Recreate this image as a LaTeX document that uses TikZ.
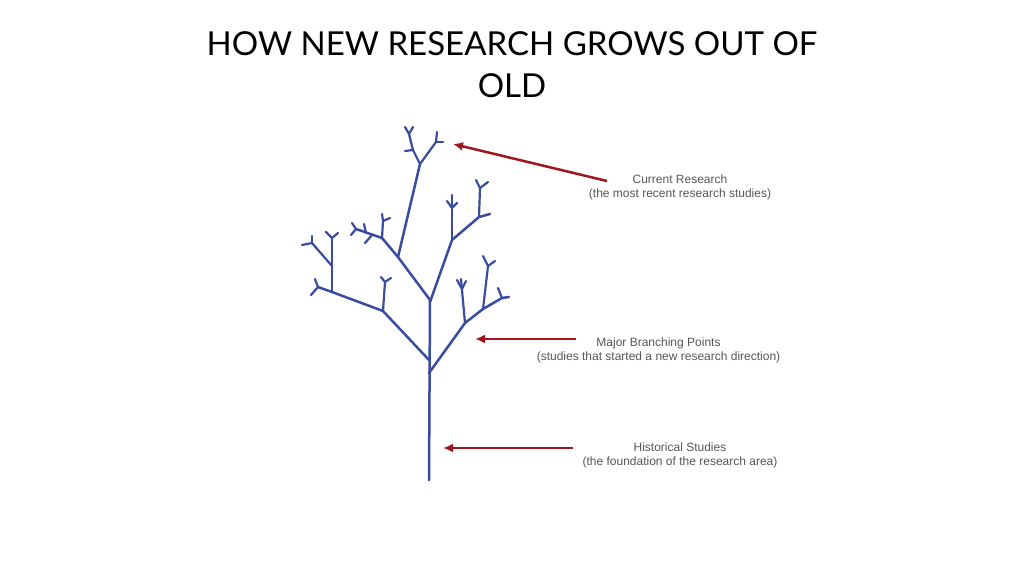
\documentclass[tikz,border=0pt]{standalone}
\usepackage{fontspec}
\setmainfont{Liberation Sans}
\newfontfamily\titrefont{Lato}
\usetikzlibrary{arrows.meta}
\definecolor{branche}{RGB}{58,76,160}
\definecolor{fleche}{RGB}{160,22,30}
\definecolor{gristexte}{RGB}{85,85,85}

\begin{document}
\begin{tikzpicture}[x = 1pt, y = -1pt,
  arbre/.style = {branche, line width = 2.5pt, line cap = round, line join = round},
  rameau/.style = {branche, line width = 2.2pt, line cap = round},
  renvoi/.style = {fleche, line width = 2.5pt, -{Latex[length=10pt,width=9pt]}},
  legende/.style = {gristexte, font = \fontsize{12}{14}\selectfont, align = center}]
\useasboundingbox (0,0) rectangle (1024,576);

% titre
\node[font = \titrefont\fontsize{33}{42}\selectfont, align = center] (titre) at (512,65) {HOW NEW RESEARCH GROWS OUT OF\\OLD};

% tronc et branches principales
\draw[arbre] (429,480) -- (430,300);
\draw[arbre] (430,300) -- (398,257) -- (382,238) -- (356,229);
\draw[arbre] (398,257) -- (420,164);
\draw[arbre] (430,302) -- (452,240) -- (479,217) -- (490,214);
\draw[arbre] (429,360) -- (383,311) -- (332,292) -- (318,287);
\draw[arbre] (429,373) -- (465,323) -- (483,309) -- (502,298) -- (509,297);

% rameaux
\foreach \xa/\ya/\xb/\yb in {420/164/413/150, 413/150/409/134, 409/134/405/127, 409/134/413/127, 413/150/405/151,
    420/164/436/142, 436/142/437/132, 436/142/443/142,
    382/238/383/221, 383/221/382/214, 383/221/390/218, 366/233/364/224, 356/229/352/223, 356/229/351/235, 372/235/365/243,
    452/240/452/195, 452/208/447/201, 452/208/457/203, 479/217/480/188, 480/188/476/180, 480/188/488/182,
    383/311/385/282, 385/282/381/277, 385/282/391/278, 332/292/332/238, 332/238/326/232, 332/238/338/233,
    332/266/312/243, 312/243/302/245, 312/243/312/236, 318/287/315/279, 318/287/311/295,
    465/323/461/279, 462/289/457/280, 462/289/466/281, 483/309/488/266, 488/266/483/256, 488/266/495/261, 502/298/498/288}
  \draw[rameau] (\xa,\ya) -- (\xb,\yb);

% legendes
\node[legende] (actuel) at (680,187) {Current Research\\(the most recent research studies)};
\node[legende] (majeur) at (658.5,350) {Major Branching Points\\(studies that started a new research direction)};
\node[legende] (histoire) at (680,455) {Historical Studies\\(the foundation of the research area)};

% fleches
\coordinate (departA) at (607,181);
\coordinate (pointeA) at (453,144);
\coordinate (departB) at (576,339);
\coordinate (pointeB) at (475,339);
\coordinate (departC) at (573,448);
\coordinate (pointeC) at (443,448);
\foreach \k in {A,B,C}
  \draw[renvoi] (depart\k) -- (pointe\k);
\end{tikzpicture}
\end{document}
